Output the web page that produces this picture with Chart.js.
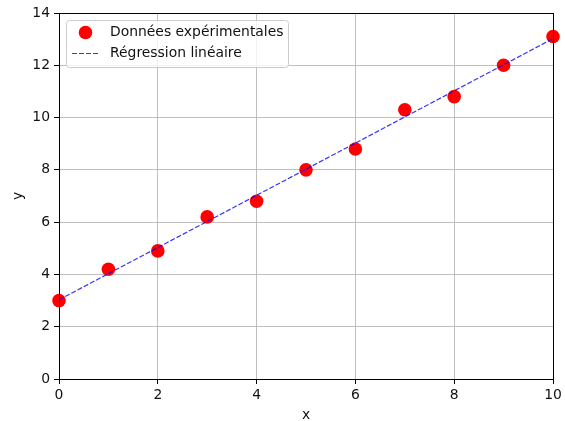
<!DOCTYPE html>
<html>
<head>
<meta charset="utf-8">
<script src="https://cdn.jsdelivr.net/npm/chart.js@4"></script>
<style>
  html, body { margin: 0; padding: 0; background: #ffffff; }
  #wrap { width: 565px; height: 421px; }
</style>
</head>
<body>
<div id="wrap"><canvas id="chart" width="565" height="421"></canvas></div>
<script>
// measured points
const xValues = [0, 1, 2, 3, 4, 5, 6, 7, 8, 9, 10];
const yValues = [3.0, 4.2, 4.9, 6.2, 6.8, 8.0, 8.8, 10.3, 10.8, 12.0, 13.1];

// fitted line, read at both ends
const fitX = [0, 10];
const fitY = [3.03, 13.02];

const seriesLabels = ['Données expérimentales', 'Régression linéaire'];
const axisTitles = ['x', 'y'];

const FONT = "'DejaVu Sans', sans-serif";
const TXT = '#111';

// matplotlib-like frame + legend box
const framePlugin = {
  id: 'frame',
  afterDraw(chart) {
    const { ctx, chartArea: a } = chart;
    ctx.save();
    ctx.strokeStyle = '#000';
    ctx.lineWidth = 1;
    ctx.strokeRect(a.left + 0.5, a.top + 0.5, a.right - a.left, a.bottom - a.top);

    // legend
    const lx = 66, ly = 20, lw = 222, lh = 47, r = 3;
    ctx.globalAlpha = 0.8;
    ctx.fillStyle = '#fff';
    ctx.beginPath();
    ctx.roundRect(lx + 0.5, ly + 0.5, lw, lh, r);
    ctx.fill();
    ctx.globalAlpha = 1;
    ctx.strokeStyle = '#cccccc';
    ctx.stroke();

    ctx.fillStyle = 'red';
    ctx.beginPath();
    ctx.arc(85.5, 32.5, 6.8, 0, Math.PI * 2);
    ctx.fill();

    ctx.strokeStyle = 'rgba(0,0,255,0.8)';
    ctx.lineWidth = 1.2;
    ctx.setLineDash([5, 2]);
    ctx.beginPath();
    ctx.moveTo(72, 53.5);
    ctx.lineTo(100, 53.5);
    ctx.stroke();
    ctx.setLineDash([]);

    ctx.fillStyle = TXT;
    ctx.font = '13.9px ' + FONT;
    ctx.textBaseline = 'middle';
    ctx.fillText(seriesLabels[0], 110, 32.5);
    ctx.fillText(seriesLabels[1], 110, 53.5);
    ctx.restore();
  }
};

new Chart(document.getElementById('chart').getContext('2d'), {
  type: 'scatter',
  data: {
    datasets: [
      {
        label: seriesLabels[0],
        data: xValues.map((x, i) => ({ x: x, y: yValues[i] })),
        backgroundColor: 'red',
        borderColor: 'red',
        borderWidth: 0,
        pointRadius: 6.8,
        pointHoverRadius: 6.8,
        showLine: false,
        clip: false,
        order: 1
      },
      {
        label: seriesLabels[1],
        type: 'line',
        data: fitX.map((x, i) => ({ x: x, y: fitY[i] })),
        borderColor: 'rgba(0,0,255,0.8)',
        borderWidth: 1.2,
        borderDash: [5, 2],
        pointRadius: 0,
        fill: false,
        clip: false,
        order: 0
      }
    ]
  },
  options: {
    responsive: false,
    animation: false,
    layout: { padding: { top: 13, right: 12, left: 0, bottom: 0 } },
    plugins: {
      legend: { display: false },
      tooltip: { enabled: false }
    },
    scales: {
      x: {
        type: 'linear',
        min: 0,
        max: 10,
        ticks: { stepSize: 2, color: TXT, font: { family: FONT, size: 13.9 }, padding: 3, maxRotation: 0 },
        grid: { color: '#b0b0b0', lineWidth: 0.8, tickColor: '#000', tickLength: 5, tickWidth: 1 },
        border: { display: false },
        title: { display: true, text: axisTitles[0], color: TXT, font: { family: FONT, size: 13.9, lineHeight: 1 }, padding: { top: 0, bottom: -1 } },
        afterFit(scale) { scale.height = 42; }
      },
      y: {
        type: 'linear',
        min: 0,
        max: 14,
        ticks: { stepSize: 2, color: TXT, font: { family: FONT, size: 13.9 }, padding: 4 },
        grid: { color: '#b0b0b0', lineWidth: 0.8, tickColor: '#000', tickLength: 5, tickWidth: 1 },
        border: { display: false },
        title: { display: true, text: axisTitles[1], color: TXT, font: { family: FONT, size: 13.9, lineHeight: 1 }, padding: { top: 11, bottom: 0 } },
        afterFit(scale) { scale.width = 59; }
      }
    }
  },
  plugins: [framePlugin]
});
</script>
</body>
</html>
